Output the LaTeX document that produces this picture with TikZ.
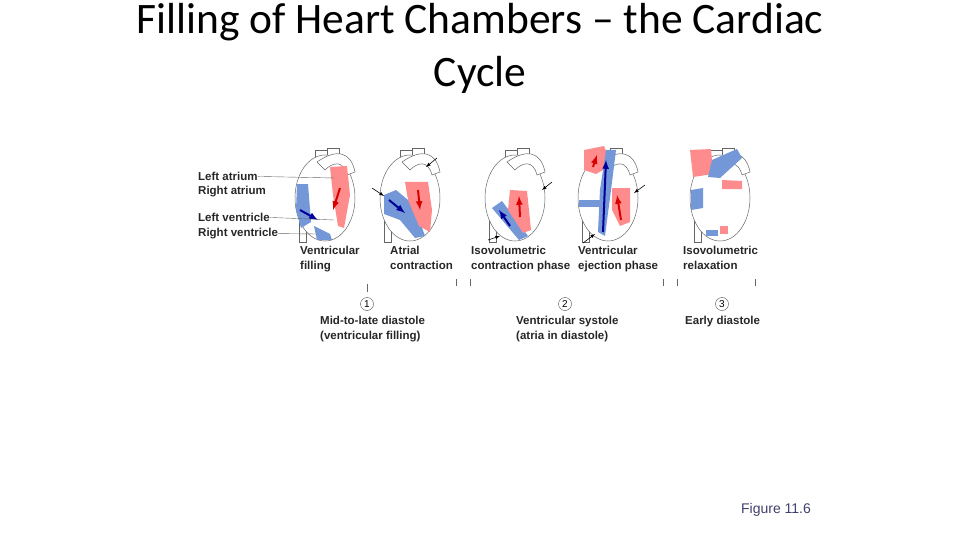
\documentclass[tikz,border=0pt]{standalone}
\usepackage{fontspec}
\setmainfont{Liberation Sans}
\newfontfamily\titlefont{Carlito}
\begin{document}
\begin{tikzpicture}[x=1pt,y=-1pt,
  lbl/.style={font=\bfseries\fontsize{11.5}{15}\selectfont, text=black!85, anchor=north west, inner sep=0, align=left},
  outl/.style={draw=black!60, line width=0.5pt, fill=white},
  bl/.style={fill=blue!45!gray!80!cyan!70, draw=none},
  rd/.style={fill=red!45, draw=none},
  barr/.style={-latex, draw=blue!60!black, line width=2pt},
  rarr/.style={-latex, draw=red!85!black, line width=2pt},
  karr/.style={-latex, draw=black, line width=0.6pt},
  tick/.style={draw=black!60, line width=0.4pt}]
\useasboundingbox (0,0) rectangle (960,540);
\node[font=\titlefont\fontsize{43.5}{53}\selectfont, align=center] (title) at (480,48) {Filling of Heart Chambers – the Cardiac\\Cycle};
% heart outlines
\foreach \cx/\nm in {325/h1,410/h2,515/h3,608/h4,720/h5}{
  \begin{scope}[shift={(\cx,0)}]
  \draw[outl] (-10,150) rectangle (2,172);
  \draw[outl] (2,148) rectangle (14,168);
  \draw[outl] (-26,195) rectangle (-19,242);
  \draw[outl] (0,198) ellipse (30 and 43);
  \draw[outl] (-8,162) .. controls (12,148) and (26,152) .. (30,172) -- (22,175) .. controls (18,160) and (8,162) .. (0,170) -- cycle;
  \end{scope}}
% heart 1
\fill[bl] (297,184) -- (308,184) -- (311,222) -- (301,228) -- (296,210) -- cycle;
\fill[bl] (314,226) -- (330,234) -- (332,240) -- (317,240) -- cycle;
\fill[rd] (330,167) -- (347,166) -- (350,195) -- (344,228) -- (338,226) -- (333,195) -- cycle;
\draw[barr] (300,210) -- (318,220);
\draw[rarr] (340,188) -- (333,210);
% heart 2
\fill[bl] (384,195) -- (396,190) -- (414,205) -- (425,236) -- (415,238) -- (400,220) -- (384,214) -- cycle;
\fill[rd] (405,182) -- (428,182) -- (432,210) -- (430,232) -- (419,226) -- (408,200) -- cycle;
\draw[barr] (389,200) -- (405,213);
\draw[rarr] (418,190) -- (420,210);
\draw[karr] (372,188) -- (384,196);
\draw[karr] (437,158) -- (426,167);
% heart 3
\fill[bl] (492,208) -- (502,201) -- (528,236) -- (519,240) -- cycle;
\fill[rd] (510,190) -- (527,191) -- (531,230) -- (523,233) -- (508,210) -- cycle;
\draw[barr] (510,226) -- (499,210);
\draw[rarr] (520,217) -- (519,196);
\draw[karr] (552,182) -- (542,190);
\draw[karr] (488,240) -- (500,236);
% heart 4
\fill[rd] (584,150) -- (604,146) -- (612,165) -- (596,174) -- (584,170) -- cycle;
\fill[bl] (606,150) -- (616,150) -- (611,190) -- (605,236) -- (598,232) -- (600,190) -- cycle;
\fill[bl] (579,200) -- (600,200) -- (600,207) -- (579,207) -- cycle;
\fill[rd] (612,188) -- (630,188) -- (630,222) -- (620,226) -- (612,210) -- cycle;
\draw[rarr] (593,167) -- (597,155);
\draw[barr] (603,232) -- (606,160);
\draw[rarr] (621,220) -- (617,195);
\draw[karr] (645,185) -- (634,193);
\draw[karr] (583,243) -- (595,234);
% heart 5
\fill[rd] (690,150) -- (711,149) -- (713,174) -- (693,177) -- cycle;
\fill[bl] (712,160) -- (737,149) -- (742,158) -- (720,178) -- (708,177) -- cycle;
\fill[rd] (722,180) -- (742,181) -- (742,189) -- (722,189) -- cycle;
\fill[bl] (691,190) -- (703,188) -- (703,208) -- (691,210) -- cycle;
\fill[rd] (720,226) -- (728,226) -- (728,234) -- (720,234) -- cycle;
\fill[bl] (706,230) -- (718,230) -- (718,236) -- (706,236) -- cycle;
% side labels
\node[lbl] (la) at (198,172) {Left atrium};
\node[lbl] (ra) at (198,186) {Right atrium};
\node[lbl] (lv) at (198,213) {Left ventricle};
\node[lbl] (rv) at (198,228) {Right ventricle};
\coordinate (la2) at (335,178); \coordinate (lv2) at (334,220); \coordinate (rv2) at (318,234);
\draw[tick] (la.east) -- (la2);
\draw[tick] (lv.east) -- (lv2);
\draw[tick] (rv.east) -- (rv2);
% phase labels
\node[lbl] (p1) at (300,246) {Ventricular\\filling};
\node[lbl] (p2) at (390,246) {Atrial\\contraction};
\node[lbl] (p3) at (471,246) {Isovolumetric\\contraction phase};
\node[lbl] (p4) at (578,246) {Ventricular\\ejection phase};
\node[lbl] (p5) at (683,246) {Isovolumetric\\relaxation};
\foreach \x/\a/\b in {367/284/292,456/279/286,470/279/286,663/279/286,677/279/286,755/279/286}
  \draw[tick] (\x,\a) -- (\x,\b);
\foreach \x/\n/\nm in {367/1/c1,565/2/c2,722/3/c3}
  \node[draw=black!70, circle, inner sep=0.5pt, minimum size=13pt, font=\fontsize{10}{11}\selectfont] (\nm) at (\x,304) {\n};
\node[lbl] (s1) at (320,316) {Mid-to-late diastole\\(ventricular filling)};
\node[lbl] (s2) at (516,316) {Ventricular systole\\(atria in diastole)};
\node[lbl] (s3) at (685,316) {Early diastole};
\node[font=\fontsize{14}{16}\selectfont, text=black!65!blue!50!gray] (fig) at (776,510) {Figure 11.6};
\end{tikzpicture}
\end{document}
